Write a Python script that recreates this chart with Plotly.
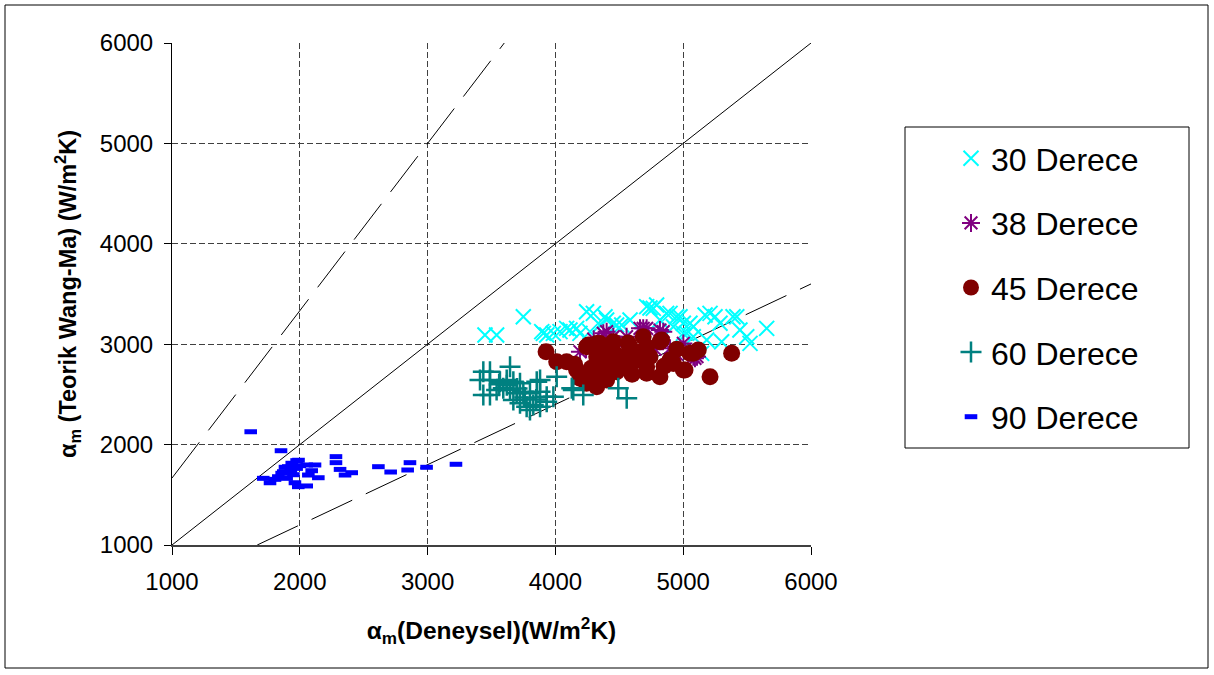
import plotly.graph_objects as go

# ---------------- data ----------------
x30 = [3449, 3540, 3749, 3893, 3932, 3906, 3984, 4036, 4088, 4114, 4166, 4192, 4244, 4270, 4297,
       4349, 4388, 4401, 4453, 4479, 4519, 4584, 4714, 4740, 4766, 4792, 4818, 4870, 4897, 4923,
       4948, 4975, 5001, 5001, 5027, 5053, 5079, 5079, 5144, 5171, 5184, 5210, 5249, 5288, 5301,
       5390, 5419, 5444, 5497, 5523, 5653]
y30 = [3092, 3092, 3274, 3125, 3092, 3108, 3108, 3125, 3158, 3141, 3158, 3108, 3324, 3125, 3307,
       3191, 3274, 3241, 3208, 3191, 3191, 3241, 3374, 3360, 3357, 3390, 3241, 3307, 3307, 3174,
       3274, 3274, 3208, 3108, 3108, 3208, 3174, 3075, 2909, 3291, 3042, 3307, 3274, 3208, 3025,
       3274, 3274, 3141, 3075, 3008, 3158]

x38 = [4192, 4375, 4401, 4453, 4557, 4662, 4687, 4714, 4818, 4844, 4897, 5001, 5079, 5092, 5108,
       4240, 4300, 4500, 4620, 4780, 4950, 4350, 4600]
y38 = [2925, 3108, 3125, 3075, 3075, 3158, 3158, 3158, 3141, 3125, 2960, 3008, 2876, 2859, 2876,
       2950, 3050, 3000, 2900, 2950, 2900, 2800, 2850]

x45 = [3927, 4010, 4088, 4166, 4244, 4323, 4244, 4323, 4258, 4349, 4453, 4584, 4687, 4831, 4244,
       4323, 4401, 4479, 4558, 4636, 4714, 4818, 4740, 4897, 5001, 5079, 4323, 4401, 4479, 4192,
       4714, 4818, 4714, 4923, 5014, 5053, 5118, 5379, 5210, 4568, 4150, 4380, 4500, 4600, 4650,
       4950, 4420, 4550, 4280, 4850]
y45 = [2925, 2826, 2826, 2743, 2975, 3008, 2643, 2577, 2992, 3008, 3025, 2975, 3075, 3042, 2610,
       2710, 2643, 2726, 2759, 2843, 2710, 2676, 2876, 2843, 2743, 2909, 2876, 2876, 2892, 2660,
       2975, 3025, 2776, 2809, 2743, 2909, 2942, 2909, 2676, 3012, 2800, 2780, 2820, 2700, 2920,
       2950, 2950, 2880, 2760, 2780]

x60 = [3645, 3436, 3488, 3410, 3488, 3566, 3619, 3671, 3723, 3854, 4010, 3436, 3488, 3540, 3592,
       3645, 3697, 3749, 3801, 3880, 3932, 3984, 3671, 3723, 3775, 3827, 3880, 3801, 3932, 4140,
       4218, 3880, 4128, 4492, 4558, 3620, 3700, 3760, 3850, 3560]
y60 = [2776, 2726, 2726, 2643, 2643, 2626, 2643, 2626, 2610, 2626, 2676, 2494, 2494, 2544, 2561,
       2544, 2511, 2527, 2511, 2527, 2477, 2477, 2444, 2411, 2378, 2394, 2378, 2345, 2428, 2544,
       2494, 2643, 2561, 2561, 2461, 2590, 2560, 2470, 2450, 2600]

x90 = [1616, 1853, 1975, 1937, 2119, 1910, 1975, 1871, 2093, 2067, 1832, 1714, 1767, 2145, 1962,
       1988, 2054, 2283, 2283, 2315, 2354, 2406, 2615, 2711, 2862, 2844, 2992, 3222, 1806, 1858,
       1884, 1990, 2054, 1897, 1950, 2000, 1930]
y90 = [2128, 1939, 1840, 1814, 1797, 1780, 1763, 1730, 1740, 1697, 1680, 1664, 1620, 1670, 1620,
       1581, 1588, 1880, 1820, 1753, 1697, 1720, 1780, 1727, 1820, 1747, 1774, 1804, 1654, 1714,
       1774, 1844, 1797, 1664, 1700, 1790, 1740]

# reference lines (end points)
ideal_x = [1000, 6000]
ideal_y = [1000, 6000]
upper_x = [1000, 3600]
upper_y = [1667, 6000]
lower_x = [1667, 6000]
lower_y = [1000, 3600]

series_names = ["30 Derece", "38 Derece", "45 Derece", "60 Derece", "90 Derece"]
tick_vals = [1000, 2000, 3000, 4000, 5000, 6000]
tick_text = ["1000", "2000", "3000", "4000", "5000", "6000"]

FONT = "Arial, Liberation Sans, sans-serif"

fig = go.Figure()

for lx, ly, dash in [(ideal_x, ideal_y, "solid"), (upper_x, upper_y, "45px,15px"),
                     (lower_x, lower_y, "45px,15px")]:
    fig.add_trace(go.Scatter(x=lx, y=ly, mode="lines", showlegend=False, hoverinfo="skip",
                             line=dict(color="black", width=1, dash=dash)))

fig.add_trace(go.Scatter(x=x30, y=y30, mode="markers", name=series_names[0], legendgroup="a",
                         marker=dict(symbol="x-thin", size=15, line=dict(color="#00FFFF", width=2),
                                     color="#00FFFF")))
fig.add_trace(go.Scatter(x=x38, y=y38, mode="markers", name=series_names[1], legendgroup="b",
                         marker=dict(symbol="asterisk", size=15, line=dict(color="#800080", width=2),
                                     color="#800080")))
fig.add_trace(go.Scatter(x=x45, y=y45, mode="markers", name=series_names[2], legendgroup="c",
                         marker=dict(symbol="circle", size=17, color="#800000", line=dict(width=0))))
fig.add_trace(go.Scatter(x=x60, y=y60, mode="markers", name=series_names[3], legendgroup="d",
                         marker=dict(symbol="cross-thin", size=15, line=dict(color="#008080", width=2.5),
                                     color="#008080")))
fig.add_trace(go.Scatter(x=x90, y=y90, mode="markers", name=series_names[4], legendgroup="e",
                         marker=dict(symbol="line-ew", size=9, line=dict(color="#0000FF", width=5),
                                     color="#0000FF")))

L, R, T, B = 172, 403, 43, 130
W, H = 1214, 675
pw, ph = W - L - R, H - T - B

def px(xp):
    return (xp - L) / pw

def py(yp):
    return (H - B - yp) / ph

axis_common = dict(range=[1000, 6000], tickvals=tick_vals, ticktext=tick_text,
                   showgrid=True, gridcolor="#404040", gridwidth=1, griddash="6px,3px",
                   zeroline=False, ticks="outside", tickcolor="black",
                   tickfont=dict(family=FONT, size=24, color="black"))

fig.update_layout(
    width=W, height=H,
    margin=dict(l=L, r=R, t=T, b=B),
    paper_bgcolor="white", plot_bgcolor="white",
    font=dict(family=FONT, color="black"),
    xaxis=dict(**axis_common, ticklen=8, ticklabelstandoff=6, showline=True, linecolor="#404040",
               linewidth=2,
               title=dict(text="<b>α<sub>m</sub>(Deneysel)(W/m<sup>2</sup>K)</b>",
                          font=dict(family=FONT, size=24.5, color="black"), standoff=28)),
    yaxis=dict(**axis_common, ticklen=7, ticklabelstandoff=6, showline=True, linecolor="black",
               linewidth=1,
               title=dict(text="<b>α<sub>m</sub> (Teorik Wang-Ma) (W/m<sup>2</sup>K)</b>",
                          font=dict(family=FONT, size=23.5, color="black"), standoff=16)),
    legend=dict(x=px(951), y=py(131), xanchor="left", yanchor="top",
                bgcolor="rgba(0,0,0,0)", borderwidth=0, tracegroupgap=20,
                font=dict(family=FONT, size=32, color="black")),
    showlegend=True,
    shapes=[
        dict(type="rect", xref="paper", yref="paper", x0=px(905), x1=px(1189), y0=py(448), y1=py(127),
             line=dict(color="black", width=1), fillcolor="rgba(0,0,0,0)", layer="below"),
        dict(type="rect", xref="paper", yref="paper", x0=px(5), x1=px(1208), y0=py(668), y1=py(5),
             line=dict(color="black", width=1), fillcolor="rgba(0,0,0,0)", layer="below"),
    ],
)

fig.write_html("out.html", config={"displayModeBar": False},
               post_script="document.body.style.margin='0';document.body.style.overflow='hidden';")
